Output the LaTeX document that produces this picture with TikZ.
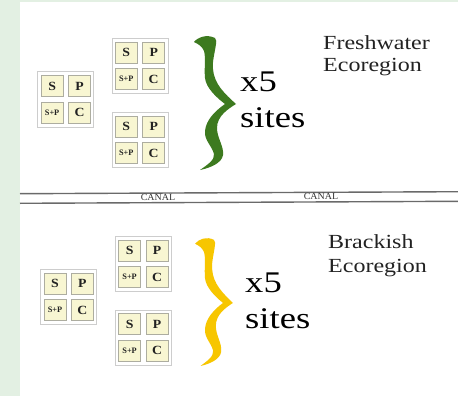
\documentclass[tikz,border=0pt]{standalone}
\usepackage{fontspec}
\setmainfont{Liberation Serif}
\definecolor{bggreen}{HTML}{E3F0E3}
\definecolor{bracegreen}{HTML}{3D7A1F}
\definecolor{braceyellow}{HTML}{F7C600}
\definecolor{cellfill}{HTML}{F8F6D2}
\definecolor{celledge}{HTML}{ADADA0}
\definecolor{outeredge}{HTML}{CDCDCD}
\definecolor{canalgray}{HTML}{6A6A6A}
\definecolor{canaltext}{HTML}{333333}
\definecolor{inkdark}{HTML}{222222}
\tikzset{
  outerbox/.style={draw=outeredge, line width=1pt, fill=white, minimum width=56pt, minimum height=55pt, inner sep=0pt},
  cellbox/.style={draw=celledge, line width=0.9pt, fill=cellfill, minimum width=22pt, minimum height=21pt, inner sep=0pt, text=inkdark, font=\bfseries\fontsize{12.5}{13}\selectfont},
  smallcell/.style={cellbox, font=\bfseries\fontsize{8.3}{9}\selectfont},
  bigtxt/.style={inner sep=0pt, anchor=base west, text=black, font=\fontsize{30}{36}\selectfont},
  regiontxt/.style={inner sep=0pt, anchor=base west, text=inkdark, font=\fontsize{20}{22}\selectfont},
  canaltxt/.style={inner sep=0pt, text=canaltext, font=\fontsize{9.5}{10}\selectfont},
  canalline/.style={draw=canalgray, line width=1.4pt},
  cluster/.pic={
    \node[outerbox] (-o) at (0,0) {};
    \node[cellbox] (-s) at (-13.7,-13.1) {\scalebox{1.1}[1]{S}};
    \node[cellbox] (-p) at (13.7,-13.1) {\scalebox{1.1}[1]{P}};
    \node[smallcell] (-sp) at (-13.7,13.1) {S+P};
    \node[cellbox] (-c) at (13.7,13.1) {\scalebox{1.1}[1]{C}};
  }
}
\newcommand{\bracepath}{%
  (-1,6) .. controls (3,1) and (12,-2) .. (20,2)
  .. controls (22,4) and (21,6) .. (21,8)
  .. controls (20,16) and (17,26) .. (18,33)
  .. controls (19,48) and (30,58) .. (41,68)
  .. controls (33,73) and (22,80) .. (22,92)
  .. controls (22,102) and (29,110) .. (28,119)
  .. controls (27,127) and (15,132) .. (5,134)
  .. controls (12,129) and (20,124) .. (19,118)
  .. controls (17,110) and (9,104) .. (10,95)
  .. controls (11,84) and (20,75) .. (30,68)
  .. controls (22,62) and (11,52) .. (10,42)
  .. controls (9,32) and (11,22) .. (9,15)
  .. controls (7,10) and (3,8) .. (-1,6) -- cycle}
\begin{document}
\begin{tikzpicture}[x=1pt,y=-1pt]
  \useasboundingbox (0,0) rectangle (458,396);
  \fill[bggreen] (0,0) rectangle (458,396);
  \fill[white] (20,2) rectangle (458,396);

  % Freshwater clusters
  \pic (fa) at (65.8,99.5) {cluster};
  \pic (fb) at (140,66) {cluster};
  \pic (fc) at (140,140) {cluster};
  % Brackish clusters
  \pic (ba) at (68.7,297) {cluster};
  \pic (bb) at (143.3,264) {cluster};
  \pic (bc) at (143.3,337.5) {cluster};

  % braces
  \fill[bracegreen, shift={(195,36)}] \bracepath;
  \fill[braceyellow, shift={(196,238)}, xscale=0.9, yscale=0.955] \bracepath;

  % texts
  \node[bigtxt] (fx5) at (240,92) {\scalebox{1.22}[1]{x5}};
  \node[bigtxt] (fsites) at (240,128) {\scalebox{1.22}[1]{sites}};
  \node[bigtxt] (bx5) at (245,292) {\scalebox{1.22}[1]{x5}};
  \node[bigtxt] (bsites) at (245,328) {\scalebox{1.22}[1]{sites}};
  \node[regiontxt] (fw1) at (323,50) {\scalebox{1.2}[1]{Freshwater}};
  \node[regiontxt] (fw2) at (323,72) {\scalebox{1.2}[1]{Ecoregion}};
  \node[regiontxt] (br1) at (328,248) {\scalebox{1.2}[1]{Brackish}};
  \node[regiontxt] (br2) at (328,272) {\scalebox{1.2}[1]{Ecoregion}};

  % canal
  \coordinate (cl1) at (20,193.7);
  \coordinate (cr1) at (458,191.7);
  \coordinate (cl2) at (20,203.3);
  \coordinate (cr2) at (458,201.3);
  \draw[canalline] (cl1) -- (cr1);
  \draw[canalline] (cl2) -- (cr2);
  \node[canaltxt] (canal1) at (158,197.6) {\scalebox{1.05}[1]{CANAL}};
  \node[canaltxt] (canal2) at (321,196.9) {\scalebox{1.05}[1]{CANAL}};
\end{tikzpicture}
\end{document}
